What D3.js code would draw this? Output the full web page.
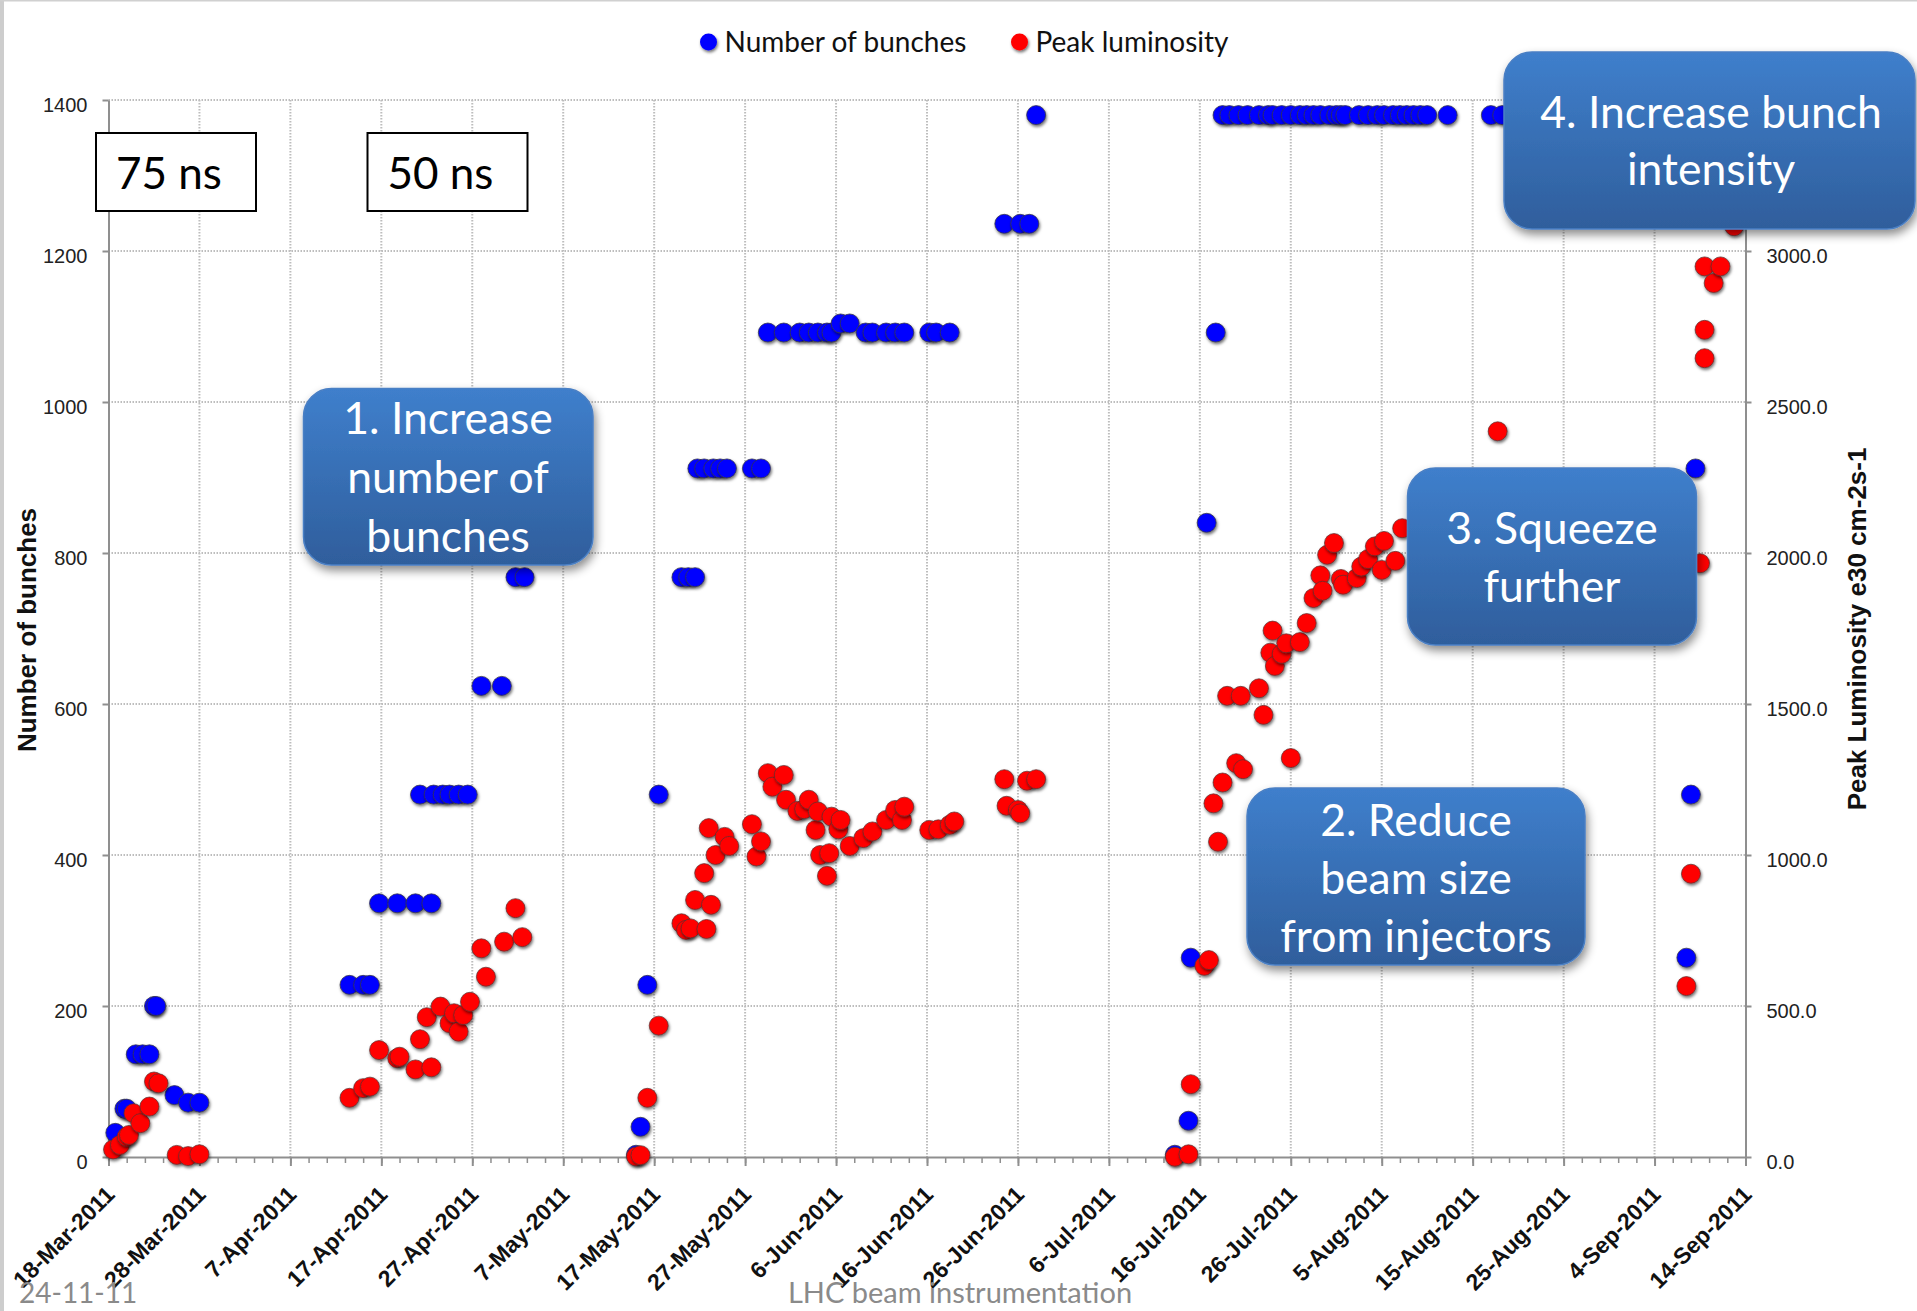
<!DOCTYPE html>
<html>
<head>
<meta charset="utf-8">
<script src="https://cdn.jsdelivr.net/npm/d3@7"></script>
<style>
  html, body { margin: 0; padding: 0; background: #ffffff; }
  svg { display: block; }
</style>
</head>
<body>
<svg id="chart" width="1917" height="1311"></svg>
<script>
// ---- Fill history, LHC 2011: number of bunches (left axis) ----
const bunchDates = [
  "2011-03-18 18","2011-03-19 18","2011-03-20 00","2011-03-21 00","2011-03-21 18","2011-03-22 12",
  "2011-03-23 00","2011-03-23 06","2011-03-25 06","2011-03-26 18","2011-03-28 00",
  "2011-04-13 12","2011-04-15 00","2011-04-15 18","2011-04-16 18","2011-04-18 18","2011-04-20 18",
  "2011-04-22 12","2011-04-21 06","2011-04-22 18","2011-04-23 18","2011-04-24 12","2011-04-25 12",
  "2011-04-26 12","2011-04-28 00","2011-04-30 06","2011-05-01 18","2011-05-02 18",
  "2011-05-15 00","2011-05-15 12","2011-05-16 06","2011-05-17 12","2011-05-20 00","2011-05-20 18",
  "2011-05-21 12","2011-05-21 18","2011-05-22 12","2011-05-23 12","2011-05-24 06","2011-05-25 00",
  "2011-05-27 18","2011-05-28 18","2011-05-29 12","2011-05-31 06","2011-06-02 00","2011-06-03 00",
  "2011-06-04 00","2011-06-05 00","2011-06-05 12","2011-06-06 12","2011-06-07 12","2011-06-09 06",
  "2011-06-10 00","2011-06-11 12","2011-06-12 12","2011-06-13 12","2011-06-16 06","2011-06-17 00",
  "2011-06-18 12","2011-06-24 12","2011-06-26 06","2011-06-27 06","2011-06-28 00",
  "2011-07-13 06","2011-07-14 18","2011-07-15 00","2011-07-16 18","2011-07-17 18",
  "2011-07-18 12","2011-07-19 06","2011-07-20 06","2011-07-21 06","2011-07-22 12","2011-07-23 12",
  "2011-07-24 00","2011-07-25 00","2011-07-26 00","2011-07-27 00","2011-07-27 18","2011-07-28 12",
  "2011-07-29 06","2011-07-30 06","2011-07-31 00","2011-07-31 12","2011-08-01 00","2011-08-02 12",
  "2011-08-03 12","2011-08-04 12","2011-08-05 06","2011-08-06 06","2011-08-07 00","2011-08-07 18",
  "2011-08-08 12","2011-08-09 06","2011-08-10 00","2011-08-12 06","2011-08-17 00","2011-08-18 06",
  "2011-09-07 12","2011-09-08 00","2011-09-08 12"
];
const bunchCounts = [
  32, 64, 64, 136, 136, 136,
  200, 200, 82, 72, 72,
  228, 228, 228, 336, 336, 336,
  336, 480, 480, 480, 480, 480,
  480, 624, 624, 768, 768,
  3, 40, 228, 480, 768, 768,
  768, 912, 912, 912, 912, 912,
  912, 912, 1092, 1092, 1092, 1092,
  1092, 1092, 1092, 1104, 1104, 1092,
  1092, 1092, 1092, 1092, 1092, 1092,
  1092, 1236, 1236, 1236, 1380,
  3, 48, 264, 840, 1092,
  1380, 1380, 1380, 1380, 1380, 1380,
  1380, 1380, 1380, 1380, 1380, 1380,
  1380, 1380, 1380, 1380, 1380, 1380,
  1380, 1380, 1380, 1380, 1380, 1380,
  1380, 1380, 1380, 1380, 1380, 1380,
  264, 480, 912
];

// ---- Peak luminosity, e30 cm-2 s-1 (right axis) ----
const lumiDates = [
  "2011-03-18 12","2011-03-19 06","2011-03-20 00","2011-03-20 06","2011-03-20 18","2011-03-21 12",
  "2011-03-22 12","2011-03-23 00","2011-03-23 12","2011-03-25 12","2011-03-26 18","2011-03-28 00",
  "2011-04-13 12","2011-04-15 00","2011-04-15 18","2011-04-16 18","2011-04-18 18","2011-04-19 00",
  "2011-04-20 18","2011-04-21 06","2011-04-22 00","2011-04-22 12","2011-04-23 12","2011-04-24 12",
  "2011-04-25 00","2011-04-25 12","2011-04-26 00","2011-04-26 18","2011-04-28 00","2011-04-28 12",
  "2011-04-30 12","2011-05-01 18","2011-05-02 12",
  "2011-05-15 00","2011-05-15 12","2011-05-16 06","2011-05-17 12","2011-05-20 00","2011-05-20 12",
  "2011-05-21 00","2011-05-21 12","2011-05-22 12","2011-05-22 18","2011-05-23 00","2011-05-23 06",
  "2011-05-23 18","2011-05-24 18","2011-05-25 06","2011-05-27 18","2011-05-28 06","2011-05-28 18",
  "2011-05-29 12","2011-05-30 00","2011-05-31 06","2011-05-31 12","2011-06-01 18","2011-06-02 12",
  "2011-06-03 00","2011-06-03 18","2011-06-04 00","2011-06-04 06","2011-06-05 00","2011-06-05 06",
  "2011-06-05 12","2011-06-06 06","2011-06-06 12","2011-06-07 12","2011-06-09 00","2011-06-10 00",
  "2011-06-11 12","2011-06-12 12","2011-06-13 06","2011-06-13 12","2011-06-16 06","2011-06-17 06",
  "2011-06-18 12","2011-06-19 00","2011-06-24 12","2011-06-24 18","2011-06-26 00","2011-06-26 06",
  "2011-06-27 00","2011-06-28 00",
  "2011-07-13 06","2011-07-14 18","2011-07-15 00","2011-07-16 12","2011-07-17 00","2011-07-17 12",
  "2011-07-18 00","2011-07-18 12","2011-07-19 00","2011-07-20 00","2011-07-20 12","2011-07-20 18",
  "2011-07-22 12","2011-07-23 00","2011-07-23 18","2011-07-24 00","2011-07-24 06","2011-07-25 00",
  "2011-07-25 12","2011-07-26 00","2011-07-27 00","2011-07-27 18","2011-07-28 12","2011-07-29 06",
  "2011-07-29 12","2011-07-30 00","2011-07-30 18","2011-07-31 12","2011-07-31 18","2011-08-02 06",
  "2011-08-02 18","2011-08-03 12","2011-08-04 06","2011-08-05 00","2011-08-05 06","2011-08-06 12",
  "2011-08-07 06","2011-08-17 18",
  "2011-09-07 12","2011-09-08 00","2011-09-09 00","2011-09-09 12","2011-09-09 12","2011-09-09 12",
  "2011-09-10 12","2011-09-11 06","2011-09-12 18"
];
const lumiValues = [
  25, 40, 67, 73, 145, 112,
  167, 250, 244, 7, 3, 9,
  196, 228, 233, 354, 327, 332,
  290, 390, 463, 297, 498, 443,
  476, 415, 470, 514, 691, 597,
  713, 824, 728,
  2, 6, 196, 435, 774, 752,
  757, 851, 940, 755, 1089, 835,
  1000, 1060, 1030, 1102, 995, 1045,
  1271, 1226, 1265, 1183, 1146, 1152,
  1183, 1083, 1144, 1000, 931, 1006,
  1127, 1085, 1116, 1030, 1056, 1078,
  1116, 1149, 1116, 1160, 1083, 1085,
  1100, 1111, 1251, 1163, 1149, 1138,
  1246, 1251,
  1, 9, 241, 633, 652, 1171,
  1044, 1240, 1527, 1304, 1527, 1284,
  1552, 1464, 1670, 1743, 1626, 1666,
  1701, 1321, 1705, 1768, 1851, 1926,
  1875, 1994, 2033, 1914, 1895, 1917,
  1955, 1980, 2022, 1944, 2040, 1974,
  2082, 2403,
  566, 938, 1966, 2645, 2739, 2949,
  2894, 2949, 3082
];

// ---- Axis ticks ----
const xTickLabels = [
  "18-Mar-2011","28-Mar-2011","7-Apr-2011","17-Apr-2011","27-Apr-2011","7-May-2011","17-May-2011",
  "27-May-2011","6-Jun-2011","16-Jun-2011","26-Jun-2011","6-Jul-2011","16-Jul-2011","26-Jul-2011",
  "5-Aug-2011","15-Aug-2011","25-Aug-2011","4-Sep-2011","14-Sep-2011"
];
const leftTicks = [0, 200, 400, 600, 800, 1000, 1200, 1400];
const rightTicks = [0, 500, 1000, 1500, 2000, 2500, 3000];
const rightMax = 3500;

// ---- Annotations ----
const callouts = [
  { lines: ["1. Increase", "number of", "bunches"], box: [303.5, 388.5, 289.5, 176.5], cx: 448, base: 434, step: 59 },
  { lines: ["2. Reduce", "beam size", "from injectors"], box: [1247, 788, 338, 177], cx: 1416, base: 836, step: 58 },
  { lines: ["3. Squeeze", "further"], box: [1407.5, 468, 289, 177], cx: 1552, base: 544, step: 58 },
  { lines: ["4. Increase bunch", "intensity"], box: [1504, 52, 411, 177], cx: 1711, base: 128, step: 57 }
];
const spacingBoxes = [
  { label: "75 ns", box: [96, 133, 160, 78] },
  { label: "50 ns", box: [367.5, 133, 160, 78] }
];

// ---------------------------------------------------------------
const parseFill = d3.utcParse("%Y-%m-%d %H");
const parseTick = d3.utcParse("%d-%b-%Y");

const bunches = bunchDates.map((d, i) => ({ date: parseFill(d), value: bunchCounts[i] }));
const lumi = lumiDates.map((d, i) => ({ date: parseFill(d), value: lumiValues[i] }));
const tickDates = xTickLabels.map(parseTick);

const plot = { left: 108.5, right: 1745.5, top: 100, bottom: 1157 };

const x = d3.scaleUtc()
  .domain([tickDates[0], tickDates[tickDates.length - 1]])
  .range([plot.left, plot.right]);
const yL = d3.scaleLinear().domain([0, 1400]).range([plot.bottom, plot.top]);
const yR = d3.scaleLinear().domain([0, rightMax]).range([plot.bottom, plot.top]);

const svg = d3.select("#chart");
const defs = svg.append("defs");

defs.append("filter").attr("id", "dotShadow")
  .attr("x", "-60%").attr("y", "-60%").attr("width", "220%").attr("height", "220%")
  .append("feDropShadow")
  .attr("dx", 1).attr("dy", 2).attr("stdDeviation", 1.6)
  .attr("flood-color", "#000").attr("flood-opacity", 0.55);

defs.append("filter").attr("id", "boxShadow")
  .attr("x", "-20%").attr("y", "-20%").attr("width", "140%").attr("height", "150%")
  .append("feDropShadow")
  .attr("dx", 2).attr("dy", 5).attr("stdDeviation", 5)
  .attr("flood-color", "#000").attr("flood-opacity", 0.45);

const grad = defs.append("linearGradient").attr("id", "calloutFill")
  .attr("x1", 0).attr("y1", 0).attr("x2", 0).attr("y2", 1);
grad.append("stop").attr("offset", "0%").attr("stop-color", "#3f7fcc");
grad.append("stop").attr("offset", "100%").attr("stop-color", "#2f5e9c");

// slide edge
svg.append("rect").attr("x", 0).attr("y", 0).attr("width", 4).attr("height", 1311).attr("fill", "#cdcdcd");
svg.append("rect").attr("x", 0).attr("y", 0).attr("width", 1917).attr("height", 1.5).attr("fill", "#d0d0d0");

// ---- grid ----
const grid = svg.append("g").attr("class", "grid")
  .attr("stroke", "#bdbdbd").attr("stroke-width", 2).attr("stroke-dasharray", "1.5,1.5");
grid.selectAll("line.h").data(leftTicks.filter(v => v > 0)).join("line")
  .attr("class", "h")
  .attr("x1", plot.left).attr("x2", plot.right)
  .attr("y1", d => yL(d)).attr("y2", d => yL(d));
grid.selectAll("line.v").data(tickDates.slice(1, -1)).join("line")
  .attr("class", "v")
  .attr("x1", d => x(d)).attr("x2", d => x(d))
  .attr("y1", plot.top).attr("y2", plot.bottom);

// ---- axes ----
const axisColor = "#8f8f8f";
const minorDates = d3.range(0, 181, 2).map(i => d3.utcDay.offset(tickDates[0], i));

const xMinor = svg.append("g").attr("transform", `translate(0,${plot.bottom})`)
  .call(d3.axisBottom(x).tickValues(minorDates).tickSize(6).tickFormat(""));
xMinor.select(".domain").remove();
xMinor.selectAll("line").attr("stroke", axisColor).attr("stroke-width", 1.5);

const xAxis = svg.append("g").attr("transform", `translate(0,${plot.bottom})`)
  .call(d3.axisBottom(x).tickValues(tickDates).tickSize(9).tickSizeOuter(0)
    .tickFormat((d, i) => xTickLabels[i]));
xAxis.select(".domain").attr("stroke", axisColor).attr("stroke-width", 2);
xAxis.selectAll("line").attr("stroke", axisColor).attr("stroke-width", 2);
xAxis.selectAll("text")
  .attr("x", 0).attr("y", 0).attr("dy", null)
  .attr("transform", "translate(7,39) rotate(-45)")
  .attr("text-anchor", "end")
  .attr("fill", "#111")
  .style("font-family", "'Liberation Sans', Arial, sans-serif")
  .style("font-weight", "bold")
  .style("font-size", "23px");

const yAxisL = svg.append("g").attr("transform", `translate(${plot.left},0)`)
  .call(d3.axisLeft(yL).tickValues(leftTicks).tickSize(6).tickSizeOuter(0)
    .tickFormat(d3.format("d")));
yAxisL.select(".domain").attr("stroke", axisColor).attr("stroke-width", 2);
yAxisL.selectAll("line").attr("stroke", axisColor).attr("stroke-width", 2);
yAxisL.selectAll("text")
  .attr("dy", null).attr("y", 11).attr("x", -21)
  .attr("fill", "#222")
  .style("font-family", "'Liberation Sans', Arial, sans-serif")
  .style("font-size", "20px");

const yAxisR = svg.append("g").attr("transform", `translate(${plot.right},0)`)
  .call(d3.axisRight(yR).tickValues(rightTicks).tickSize(6).tickSizeOuter(0)
    .tickFormat(d3.format(".1f")));
yAxisR.select(".domain").attr("stroke", axisColor).attr("stroke-width", 2);
yAxisR.selectAll("line").attr("stroke", axisColor).attr("stroke-width", 2);
yAxisR.selectAll("text")
  .attr("dy", null).attr("y", 11).attr("x", 21)
  .attr("fill", "#222")
  .style("font-family", "'Liberation Sans', Arial, sans-serif")
  .style("font-size", "20px");

// axis titles
svg.append("text")
  .attr("transform", "translate(36,630) rotate(-90)")
  .attr("text-anchor", "middle")
  .style("font-family", "'Liberation Sans', Arial, sans-serif")
  .style("font-weight", "bold").style("font-size", "26px")
  .attr("fill", "#111")
  .text("Number of bunches");
svg.append("text")
  .attr("transform", "translate(1866,629) rotate(-90)")
  .attr("text-anchor", "middle")
  .style("font-family", "'Liberation Sans', Arial, sans-serif")
  .style("font-weight", "bold").style("font-size", "26px")
  .attr("fill", "#111")
  .text("Peak Luminosity e30 cm-2s-1");

// ---- markers ----
const dots = svg.append("g");
dots.selectAll("circle.bunch").data(bunches).join("circle")
  .attr("class", "bunch")
  .attr("cx", d => x(d.date)).attr("cy", d => yL(d.value)).attr("r", 9.5)
  .attr("fill", "#0000ff").attr("stroke", "rgba(55,55,70,0.75)").attr("stroke-width", 1)
  .attr("filter", "url(#dotShadow)");
dots.selectAll("circle.lumi").data(lumi).join("circle")
  .attr("class", "lumi")
  .attr("cx", d => x(d.date)).attr("cy", d => yR(d.value)).attr("r", 9.5)
  .attr("fill", "#ff0000").attr("stroke", "rgba(90,50,50,0.7)").attr("stroke-width", 1)
  .attr("filter", "url(#dotShadow)");

// ---- legend ----
const legendItems = [
  { label: "Number of bunches", color: "#0000ff", cx: 708.5 },
  { label: "Peak luminosity", color: "#ff0000", cx: 1019.5 }
];
const legend = svg.append("g");
legendItems.forEach(it => {
  legend.append("circle").attr("cx", it.cx).attr("cy", 42).attr("r", 8.5)
    .attr("fill", it.color).attr("filter", "url(#dotShadow)");
  legend.append("text").attr("x", it.cx + 16).attr("y", 52)
    .style("font-family", "Lato, 'Open Sans', sans-serif").style("font-size", "28px")
    .attr("fill", "#111").text(it.label);
});

// ---- bunch spacing boxes ----
spacingBoxes.forEach(b => {
  svg.append("rect").attr("x", b.box[0]).attr("y", b.box[1])
    .attr("width", b.box[2]).attr("height", b.box[3])
    .attr("fill", "#fff").attr("stroke", "#000").attr("stroke-width", 2);
  svg.append("text").attr("x", b.box[0] + 20).attr("y", b.box[1] + 56)
    .style("font-family", "Lato, 'Open Sans', sans-serif").style("font-size", "44px")
    .attr("fill", "#000").text(b.label);
});

// ---- callouts ----
callouts.forEach(c => {
  const g = svg.append("g");
  g.append("rect").attr("x", c.box[0]).attr("y", c.box[1])
    .attr("width", c.box[2]).attr("height", c.box[3])
    .attr("rx", 28).attr("ry", 28)
    .attr("fill", "url(#calloutFill)")
    .attr("stroke", "#4a7fc4").attr("stroke-width", 1.5)
    .attr("filter", "url(#boxShadow)");
  c.lines.forEach((t, i) => {
    g.append("text").attr("x", c.cx).attr("y", c.base + i * c.step)
      .attr("text-anchor", "middle")
      .style("font-family", "Lato, 'Open Sans', sans-serif").style("font-size", "44.5px")
      .attr("fill", "#ffffff").text(t);
  });
});

// ---- footer ----
svg.append("text").attr("x", 19).attr("y", 1303)
  .style("font-family", "Lato, 'Open Sans', sans-serif").style("font-size", "28px")
  .attr("fill", "#8a8a8a").text("24-11-11");
svg.append("text").attr("x", 960).attr("y", 1303).attr("text-anchor", "middle")
  .style("font-family", "Lato, 'Open Sans', sans-serif").style("font-size", "29px")
  .attr("fill", "#8a8a8a").text("LHC beam instrumentation");
</script>
</body>
</html>
